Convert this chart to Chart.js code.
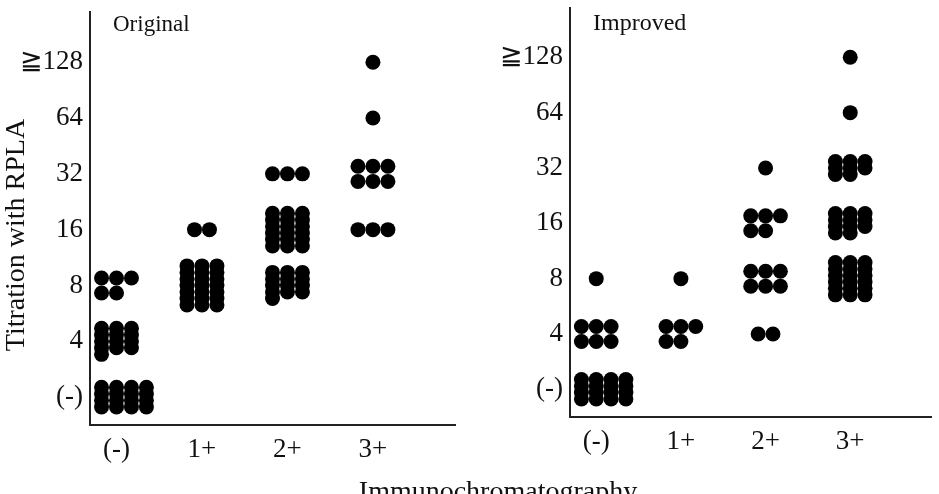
<!DOCTYPE html>
<html>
<head>
<meta charset="utf-8">
<script src="https://cdn.jsdelivr.net/npm/chart.js@4.4.0/dist/chart.umd.min.js"></script>
<style>
  html, body { margin: 0; padding: 0; background: #fff; overflow: hidden; }
  body { width: 939px; height: 494px; position: relative; }
  canvas { position: absolute; top: 0; }
  #leftChart { left: 0; }
  #rightChart { left: 470px; }
  #xTitle {
    position: absolute; left: 298px; width: 400px; top: 477px;
    text-align: center; font: 28px/28px "Liberation Serif", "DejaVu Serif", serif; color: #111;
  }
</style>
</head>
<body>
<canvas id="leftChart" width="470" height="494"></canvas>
<canvas id="rightChart" width="469" height="494"></canvas>
<div id="xTitle">Immunochromatography</div>
<script>
const categories = ["(-)", "1+", "2+", "3+"];
const titerLabels = ["(-)", "4", "8", "16", "32", "64", "≧128"];

// number of samples at each RPLA titer (same order as titerLabels),
// one array per immunochromatography grade
const originalNeg = [16, 13, 5, 0, 0, 0, 0];
const original1 = [0, 0, 21, 2, 0, 0, 0];
const original2 = [0, 0, 13, 18, 3, 0, 0];
const original3 = [0, 0, 0, 3, 6, 1, 1];

const improvedNeg = [16, 6, 1, 0, 0, 0, 0];
const improved1 = [0, 5, 1, 0, 0, 0, 0];
const improved2 = [0, 2, 6, 5, 1, 0, 0];
const improved3 = [0, 0, 18, 11, 8, 1, 1];

// dot plot layout (in axis units)
const DOT_RADIUS = 7.5;
const COL_STEP = 0.175;
const ROW_STEP = 0.27;
const PACK_STEP = 0.117;

const serif = "'Liberation Serif', 'DejaVu Serif', serif";

// stack the dots of one grade into little columns around each titer level
function layoutDots(counts, cat) {
    const pts = [];
    counts.forEach((n, level) => {
        if (!n) return;
        const cols = level === 0 ? 4 : 3;
        const rows = Math.ceil(n / cols);
        const stepY = rows > 2 ? PACK_STEP : ROW_STEP;
        const top = level + (rows - 1) * stepY / 2;
        for (let k = 0; k < n; k++) {
            const r = Math.floor(k / cols);
            const c = k % cols;
            let dx = (c - 1) * COL_STEP;
            if (rows === 1 && n < 3) dx = (c - (n - 1) / 2) * COL_STEP;
            pts.push({ x: cat + dx, y: top - r * stepY });
        }
    });
    return pts;
}

const textPlugin = {
    id: "panelText",
    afterDraw(chart, args, opts) {
        const ctx = chart.ctx;
        (opts.items || []).forEach(t => {
            ctx.save();
            ctx.fillStyle = "#111";
            ctx.font = t.size + "px " + serif;
            ctx.textAlign = t.align || "left";
            ctx.textBaseline = "alphabetic";
            ctx.translate(t.x, t.y);
            if (t.rotate) ctx.rotate(t.rotate);
            ctx.fillText(t.text, 0, 0);
            ctx.restore();
        });
    }
};

function makeChart(id, series, o) {
    return new Chart(document.getElementById(id), {
        type: "scatter",
        data: {
            datasets: [{
                data: series.flatMap((counts, i) => layoutDots(counts, i)),
                backgroundColor: "#000",
                borderWidth: 0,
                pointRadius: DOT_RADIUS,
                pointHoverRadius: DOT_RADIUS
            }]
        },
        options: {
            responsive: false,
            animation: false,
            layout: { padding: { top: o.top, right: o.right, left: 0, bottom: 0 } },
            plugins: {
                legend: { display: false },
                tooltip: { enabled: false },
                panelText: { items: o.texts }
            },
            scales: {
                x: {
                    type: "linear", min: -0.31, max: 3.96,
                    grid: { display: false, drawTicks: false },
                    border: { display: true, color: "#222", width: 2 },
                    afterBuildTicks: s => { s.ticks = categories.map((c, i) => ({ value: i })); },
                    ticks: {
                        callback: v => categories[Math.round(v)],
                        font: { family: serif, size: 27 }, color: "#111",
                        padding: 9, maxRotation: 0, autoSkip: false
                    },
                    afterFit: s => { s.height = o.xAxisH; s.paddingLeft = 0; s.paddingRight = 0; }
                },
                y: {
                    type: "linear", min: -0.5, max: 6.9,
                    grid: { display: false, drawTicks: false },
                    border: { display: true, color: "#222", width: 2 },
                    afterBuildTicks: s => { s.ticks = titerLabels.map((t, i) => ({ value: i })); },
                    ticks: {
                        callback: v => titerLabels[Math.round(v)],
                        font: { family: serif, size: 27 }, color: "#111",
                        padding: 7, autoSkip: false
                    },
                    afterFit: s => { s.width = o.yAxisW; s.paddingTop = 0; s.paddingBottom = 0; }
                }
            }
        },
        plugins: [textPlugin]
    });
}

makeChart("leftChart", [originalNeg, original1, original2, original3], {
    top: 12, right: 15, yAxisW: 90, xAxisH: 69,
    texts: [
        { text: "Original", x: 113, y: 31, size: 23 },
        { text: "Titration with RPLA", x: 24, y: 235, size: 28, align: "center", rotate: -Math.PI / 2 }
    ]
});

makeChart("rightChart", [improvedNeg, improved1, improved2, improved3], {
    top: 5, right: 4, yAxisW: 100, xAxisH: 77,
    texts: [
        { text: "Improved", x: 123, y: 30, size: 24 }
    ]
});
</script>
</body>
</html>
